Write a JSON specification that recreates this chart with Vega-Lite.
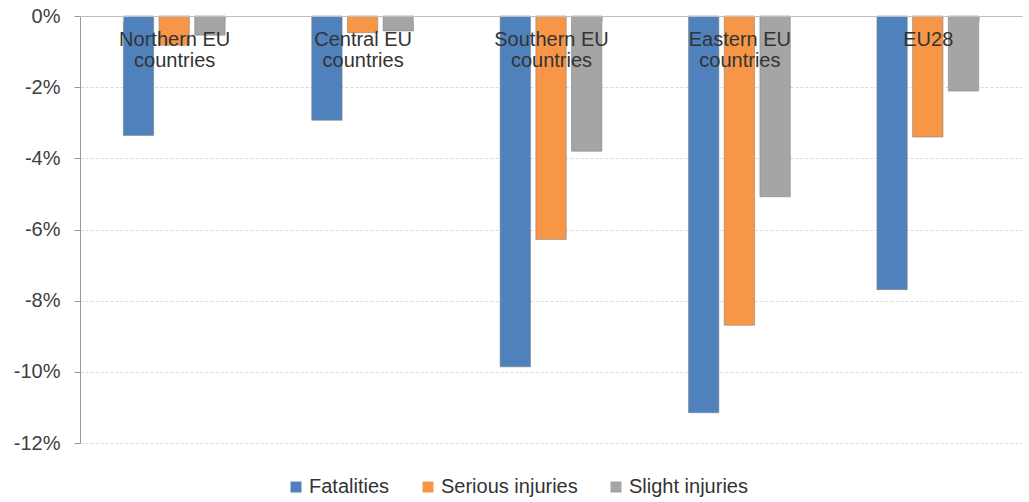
{
  "$schema": "https://vega.github.io/schema/vega-lite/v6.json",
  "width": 942,
  "height": 427,
  "autosize": {"type": "none"},
  "padding": {"left": 80, "top": 16, "right": 7, "bottom": 59},
  "background": "white",
  "config": {
    "view": {"stroke": null},
    "font": "Liberation Sans"
  },
  "data": {
    "values": [
      {"region": "Northern EU countries", "type": "Fatalities", "value": -3.36},
      {"region": "Northern EU countries", "type": "Serious injuries", "value": -0.82},
      {"region": "Northern EU countries", "type": "Slight injuries", "value": -0.54},
      {"region": "Central EU countries", "type": "Fatalities", "value": -2.93},
      {"region": "Central EU countries", "type": "Serious injuries", "value": -0.47},
      {"region": "Central EU countries", "type": "Slight injuries", "value": -0.42},
      {"region": "Southern EU countries", "type": "Fatalities", "value": -9.86},
      {"region": "Southern EU countries", "type": "Serious injuries", "value": -6.28},
      {"region": "Southern EU countries", "type": "Slight injuries", "value": -3.8},
      {"region": "Eastern EU countries", "type": "Fatalities", "value": -11.15},
      {"region": "Eastern EU countries", "type": "Serious injuries", "value": -8.69},
      {"region": "Eastern EU countries", "type": "Slight injuries", "value": -5.08},
      {"region": "EU28", "type": "Fatalities", "value": -7.69},
      {"region": "EU28", "type": "Serious injuries", "value": -3.4},
      {"region": "EU28", "type": "Slight injuries", "value": -2.11}
    ]
  },
  "mark": {"type": "bar", "stroke": "#7f7f7f", "strokeWidth": 0.8, "strokeOpacity": 0.7},
  "encoding": {
    "x": {
      "field": "region",
      "type": "nominal",
      "sort": ["Northern EU countries", "Central EU countries", "Southern EU countries", "Eastern EU countries", "EU28"],
      "scale": {"paddingInner": 0.46, "paddingOuter": 0.23},
      "axis": {
        "orient": "top",
        "title": null,
        "labelAngle": 0,
        "labelBaseline": "top",
        "labelExpr": "!datum.label ? '' : (datum.label == 'EU28' ? 'EU28' : [replace(datum.label, ' countries', ''), 'countries'])",
        "labelFontSize": 20,
        "labelLineHeight": 21,
        "labelColor": "#333333",
        "labelPadding": -8,
        "tickSize": -5,
        "tickBand": "extent",
        "tickColor": "#bfbfbf",
        "domainColor": "#bfbfbf",
        "labelOverlap": false,
        "labelBound": false,
        "grid": false,
        "zindex": 1
      }
    },
    "xOffset": {
      "field": "type",
      "type": "nominal",
      "sort": ["Fatalities", "Serious injuries", "Slight injuries"],
      "scale": {"paddingInner": 0.15}
    },
    "y": {
      "field": "value",
      "type": "quantitative",
      "scale": {"domain": [-12, 0], "nice": false, "zero": true},
      "axis": {
        "title": null,
        "values": [-12, -10, -8, -6, -4, -2, 0],
        "labelExpr": "datum.value + '%'",
        "labelFontSize": 20,
        "labelColor": "#404040",
        "labelPadding": 14,
        "tickSize": 6,
        "tickColor": "#999999",
        "domainColor": "#999999",
        "grid": true,
        "gridColor": "#d9d9d9",
        "gridDash": [3, 2]
      }
    },
    "color": {
      "field": "type",
      "type": "nominal",
      "sort": ["Fatalities", "Serious injuries", "Slight injuries"],
      "scale": {
        "domain": ["Fatalities", "Serious injuries", "Slight injuries"],
        "range": ["#4F81BD", "#F79646", "#A5A5A5"]
      },
      "legend": {
        "title": null,
        "orient": "none",
        "direction": "horizontal",
        "legendX": 206,
        "legendY": 461,
        "padding": 0,
        "symbolType": "square",
        "symbolSize": 121,
        "symbolStrokeWidth": 0,
        "labelFontSize": 20,
        "labelColor": "#333333",
        "labelOffset": 3,
        "columnPadding": 28
      }
    }
  }
}
